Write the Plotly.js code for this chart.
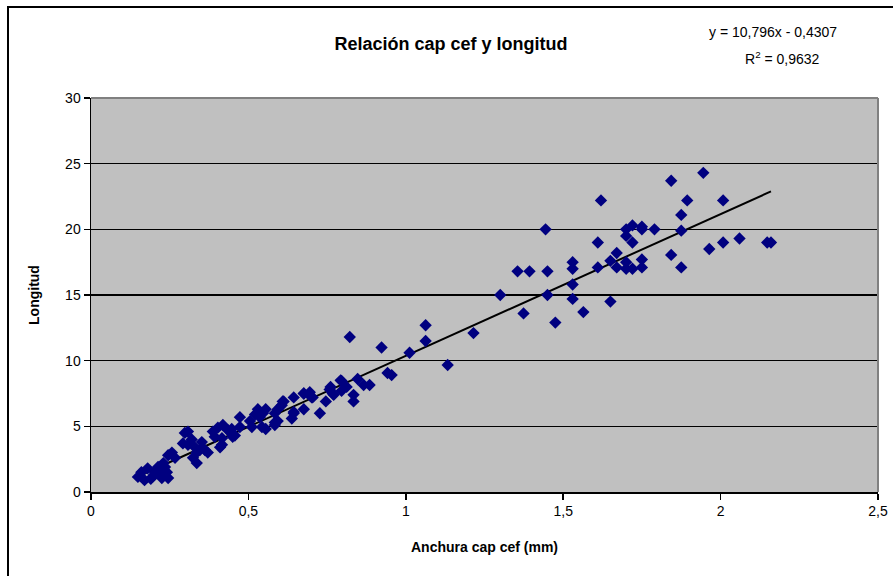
<!DOCTYPE html>
<html><head><meta charset="utf-8">
<script src="https://cdn.plot.ly/plotly-3.0.1.min.js"></script>
<style>
html,body{margin:0;padding:0;background:#fff;}
#wrap{position:relative;width:893px;height:576px;overflow:hidden;}
#chart{width:893px;height:576px;}
#frame{position:absolute;left:7px;top:6px;width:900px;height:600px;border-left:2px solid #000;border-top:2px solid #000;pointer-events:none;}
</style></head>
<body><div id="wrap"><div id="chart"></div><div id="frame"></div></div>
<script>
const anchura = [
 0.149,0.16,0.17,0.18,0.195,0.204,0.213,0.225,0.235,0.245,0.241,0.23,0.245,0.257,0.267,0.19,0.2,0.22,
 0.292,0.298,0.308,0.308,0.32,0.324,0.33,0.336,0.336,0.346,0.352,0.362,0.371,0.387,0.393,0.403,0.41,0.416,0.416,0.419,0.435,0.447,0.45,
 0.457,0.447,0.473,0.473,0.505,0.511,0.521,0.53,0.536,0.543,0.546,0.555,0.555,0.584,0.584,0.584,0.593,0.593,0.606,0.609,0.612,0.638,0.644,0.644,0.644,
 0.676,0.676,0.676,0.695,0.701,0.704,0.727,0.746,0.758,0.761,0.768,0.771,0.793,0.796,0.796,0.812,0.822,0.834,0.834,0.847,0.866,0.885,
 0.923,0.942,0.955,1.012,1.063,1.063,1.133,1.215,
 1.30,1.355,1.374,1.393,1.444,1.45,1.45,1.475,1.53,1.53,1.53,1.53,1.564,1.61,1.61,1.62,1.65,1.65,1.67,1.67,1.70,1.70,1.70,1.70,1.72,1.72,1.72,1.75,1.75,1.75,1.75,1.79,
 1.843,1.843,1.875,1.875,1.875,1.894,1.945,1.964,2.008,2.008,2.06,2.148,2.16
];
const longitud = [
 1.15,1.5,0.9,1.8,1.15,1.5,1.9,1.07,1.9,1.07,1.5,2.2,2.8,3.0,2.6,1.0,1.3,1.6,
 3.7,4.5,4.6,3.6,4.0,2.6,3.4,2.2,3.0,3.2,3.8,3.2,3.0,4.6,4.2,4.9,3.4,4.1,3.6,5.1,4.7,4.5,4.2,
 4.3,4.8,5.7,4.95,5.4,4.95,5.9,6.3,5.7,4.95,6.0,6.3,4.8,6.0,5.3,5.1,6.3,5.4,6.6,6.9,6.9,5.6,7.2,6.1,6.0,
 6.3,7.5,7.5,7.6,7.2,7.2,6.0,6.9,7.8,8.0,7.5,7.4,8.5,8.45,7.7,8.0,11.8,7.4,6.9,8.6,8.15,8.15,
 11.0,9.06,8.9,10.6,12.7,11.5,9.67,12.1,
 15.0,16.8,13.6,16.8,20.0,16.8,15.0,12.9,17.5,17.0,15.8,14.7,13.7,19.0,17.1,22.2,17.6,14.5,18.2,17.1,20.0,19.5,17.5,17.0,20.3,19.0,17.0,20.2,17.7,17.1,20.0,20.0,
 23.7,18.05,21.1,19.9,17.1,22.2,24.3,18.5,22.2,19.0,19.3,19.0,19.0
];
const slope = 10.796, intercept = -0.4307;
const eqLine1 = "y = 10,796x - 0,4307";
const eqLine2 = "R<sup>2</sup> = 0,9632";
const xTickVals = [0,0.5,1,1.5,2,2.5];
const xTickText = ["0","0,5","1","1,5","2","2,5"];
const yTickVals = [0,5,10,15,20,25,30];

const xmin = Math.min(...anchura), xmax = Math.max(...anchura);
const trendX = [xmin, xmax];
const trendY = trendX.map(v => slope*v + intercept);

const data = [
 {x: trendX, y: trendY, mode:'lines', type:'scatter', line:{color:'#000', width:2}, hoverinfo:'skip'},
 {x: anchura, y: longitud, mode:'markers', type:'scatter',
  marker:{symbol:'diamond', size:9.5, color:'#000080', line:{width:0}}}
];
const font = 'Arial, "Liberation Sans", sans-serif';
const layout = {
 width: 893, height: 576,
 margin:{l:91, r:15, t:98, b:84},
 paper_bgcolor:'#fff', plot_bgcolor:'#C0C0C0',
 showlegend:false,
 font:{family:font, size:14, color:'#000'},
 title:{text:'<b>Relación cap cef y longitud</b>', font:{family:font, size:18, color:'#000'}, x:0.505, xanchor:'center', y:0.925, yanchor:'middle'},
 xaxis:{range:[0,2.5], tickvals:xTickVals, ticktext:xTickText, ticks:'outside', ticklen:6, tickwidth:1.5, tickcolor:'#000',
   showgrid:false, zeroline:false, showline:true, linecolor:'#000', linewidth:1.5, mirror:false,
   tickfont:{family:font,size:14}, title:{text:'<b>Anchura cap cef (mm)</b>', font:{family:font,size:14}, standoff:24}},
 yaxis:{range:[0,30], tickvals:yTickVals, ticks:'outside', ticklen:6, tickwidth:1.5, tickcolor:'#000',
   showgrid:true, gridcolor:'#000', gridwidth:1.5, zeroline:false, showline:true, linecolor:'#000', linewidth:1.5,
   tickfont:{family:font,size:14}, title:{text:'<b>Longitud</b>', font:{family:font,size:14}, standoff:22}},
 shapes:[
  {type:'line', xref:'paper', yref:'paper', x0:0, x1:1, y0:1, y1:1, line:{color:'#808080', width:2}},
  {type:'line', xref:'paper', yref:'paper', x0:1, x1:1, y0:0, y1:1, line:{color:'#808080', width:2}}
 ],
 annotations:[
  {text: eqLine1, xref:'paper', yref:'paper', x:0.867, y:1.168, xanchor:'center', yanchor:'middle', showarrow:false,
   font:{family:font, size:14, color:'#000'}},
  {text: eqLine2, xref:'paper', yref:'paper', x:0.879, y:1.101, xanchor:'center', yanchor:'middle', showarrow:false,
   font:{family:font, size:14, color:'#000'}}
 ]
};
Plotly.newPlot('chart', data, layout, {displayModeBar:false, staticPlot:true});
</script></body></html>
